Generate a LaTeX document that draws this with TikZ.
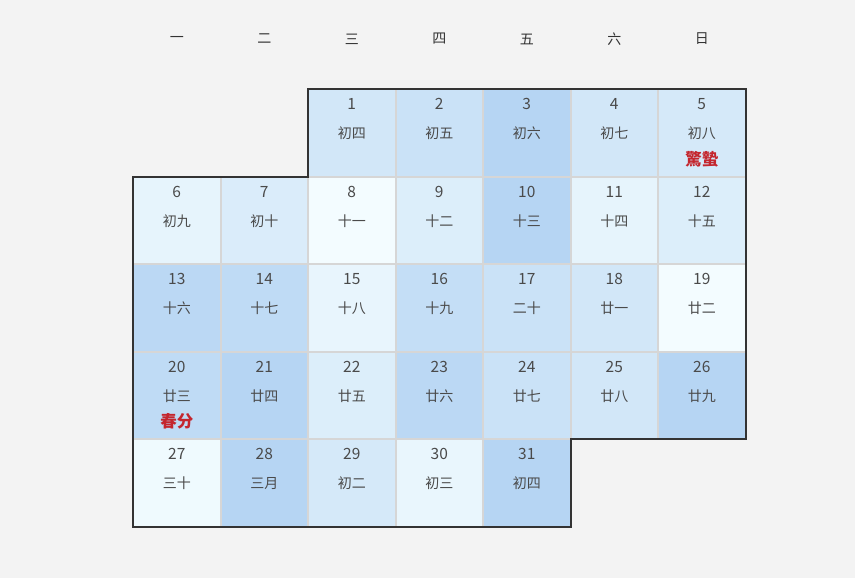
\documentclass[tikz,border=0pt]{standalone}
\usepackage{fontspec}
\usepackage{xcolor}
\usepackage{tikz}
\usetikzlibrary{positioning, calc}
\newfontfamily\cjk{Noto Sans CJK SC}
\definecolor{pagegray}{HTML}{F3F3F3}
\definecolor{gridgray}{HTML}{D6D6D6}
\definecolor{framegray}{HTML}{333333}
\definecolor{heatlo}{HTML}{F4FDFF}
\definecolor{heathi}{HTML}{B6D5F3}
\definecolor{textgray}{HTML}{4A4A4A}
\definecolor{termred}{HTML}{C4262E}

\begin{document}
\begin{tikzpicture}[
  x=1pt, y=-1pt,
  weekday/.style={font=\cjk\fontsize{14}{14}\selectfont, text=black!80},
  daycell/.style={draw=gridgray, line width=2pt, minimum width=87.5pt,
                  minimum height=87.5pt, inner sep=0pt, outer sep=0pt},
  daynum/.style={font=\cjk\fontsize{15.5}{15.5}\selectfont, text=textgray, inner sep=0pt},
  lunar/.style={font=\cjk\fontsize{14}{14}\selectfont, text=textgray, inner sep=0pt},
  term/.style={font=\cjk\bfseries\fontsize{16.5}{16.5}\selectfont, text=termred, inner sep=0pt},
]
  \useasboundingbox[fill=pagegray] (0,0) rectangle (855,578);

  % Weekday header
  \foreach \w [count=\i from 0] in {一,二,三,四,五,六,日}
    \node[weekday] (wk\i) at ({176.75+87.5*\i}, 39) {\w};

  % Day cells
  \foreach \d/\lun/\p in {1/初四/55, 2/初五/68, 3/初六/100, 4/初七/55, 5/初八/50,
      6/初九/22, 7/初十/42, 8/十一/2, 9/十二/38, 10/十三/100, 11/十四/22, 12/十五/38,
      13/十六/92, 14/十七/85, 15/十八/20, 16/十九/78, 17/二十/68, 18/廿一/55, 19/廿二/2,
      20/廿三/85, 21/廿四/100, 22/廿五/38, 23/廿六/92, 24/廿七/68, 25/廿八/55, 26/廿九/100,
      27/三十/8, 28/三月/100, 29/初二/50, 30/初三/18, 31/初四/100} {
    \pgfmathtruncatemacro\pos{\d+1}
    \pgfmathtruncatemacro\col{mod(\pos,7)}
    \pgfmathtruncatemacro\row{floor(\pos/7)}
    \node[daycell, fill=heathi!\p!heatlo] (d\d) at ({176.75+87.5*\col}, {132.75+87.5*\row}) {};
    \node[daynum] (n\d) at ([yshift=28.75pt]d\d.center) {\d};
    \node[lunar] (l\d) at ([yshift=-0.5pt]d\d.center) {\lun};
  }

  % Solar terms
  \node[term] (t5) at ([yshift=-26.25pt]d5.center) {驚蟄};
  \node[term] (t20) at ([yshift=-26.25pt]d20.center) {春分};

  % Month outline
  \draw[framegray, line width=2pt]
    (d1.north west) -- (d5.north east) -- (d26.south east) -- (d31.north east)
    -- (d31.south east) -- (d27.south west) -- (d6.north west) -- (d1.south west) -- cycle;
\end{tikzpicture}
\end{document}
